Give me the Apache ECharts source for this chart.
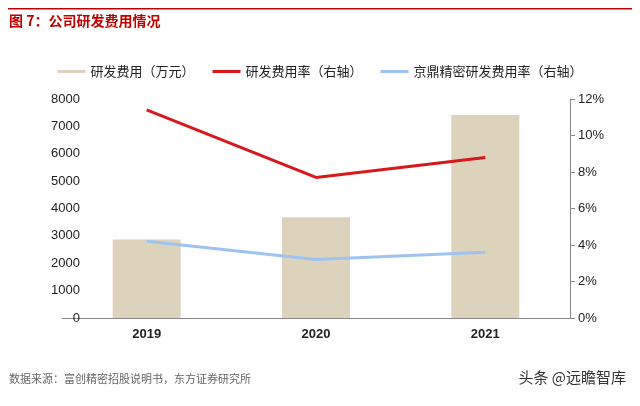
<!DOCTYPE html>
<html><head><meta charset="utf-8">
<script src="https://cdn.jsdelivr.net/npm/echarts@6/dist/echarts.min.js"></script>
<style>html,body{margin:0;padding:0;background:#fff}#c{width:640px;height:406px}</style>
</head><body><div id="c"></div>
<script>
const categories = ['2019','2020','2021'];
const rdExpense = [2870, 3680, 7420];
const rdRate = [11.4, 7.7, 8.8];
const jdRate = [4.2, 3.2, 3.6];
const F = '"Noto Sans CJK SC", sans-serif';
const chart = echarts.init(document.getElementById('c'));
chart.setOption({
  animation:false,
  graphic:[
    {type:'rect',shape:{x:8,y:8,width:624,height:1.5},style:{fill:'#c00000'}},
    {type:'text',left:9,top:14,style:{text:'图 7：公司研发费用情况',fill:'#c00000',font:'bold 14px '+F}},
    {type:'text',left:9,top:373,style:{text:'数据来源：富创精密招股说明书，东方证券研究所',fill:'#666',font:'11px '+F}},
    {type:'text',right:14,top:370,style:{text:'头条 @远瞻智库',fill:'#333',font:'15px '+F}}
  ],
  legend:{top:60,left:'center',itemGap:18,itemWidth:28,itemHeight:3,
    textStyle:{fontFamily:F,fontSize:13,color:'#222'},
    data:[{name:'研发费用（万元）',icon:'rect',itemStyle:{color:'#ddd3bd'}},{name:'研发费用率（右轴）',icon:'rect'},{name:'京鼎精密研发费用率（右轴）',icon:'rect'}]},
  grid:{left:62,right:70,top:99,bottom:88},
  xAxis:{type:'category',data:categories,axisTick:{show:false},
    axisLine:{lineStyle:{color:'#888'}},
    axisLabel:{color:'#222',fontSize:13,fontFamily:'Arial',fontWeight:'bold',margin:10}},
  yAxis:[
    {type:'value',min:0,max:8000,interval:1000,splitLine:{show:false},
     axisLine:{show:false},axisTick:{show:false},
     axisLabel:{color:'#222',fontSize:13,fontFamily:'Arial',margin:-18,formatter:v=>String(v)}},
    {type:'value',min:0,max:12,interval:2,splitLine:{show:false},
     axisLine:{show:true,lineStyle:{color:'#888'}},axisTick:{show:true},
     axisLabel:{color:'#222',fontSize:13,fontFamily:'Arial',formatter:'{value}%'}}
  ],
  series:[
    {name:'研发费用（万元）',type:'bar',data:rdExpense,barWidth:68,itemStyle:{color:'#ddd3bd'}},
    {name:'研发费用率（右轴）',type:'line',yAxisIndex:1,data:rdRate,symbol:'none',lineStyle:{color:'#d7191c',width:3},itemStyle:{color:'#d7191c'}},
    {name:'京鼎精密研发费用率（右轴）',type:'line',yAxisIndex:1,data:jdRate,symbol:'none',lineStyle:{color:'#9dc3f0',width:3},itemStyle:{color:'#9dc3f0'}}
  ]
});
</script></body></html>
